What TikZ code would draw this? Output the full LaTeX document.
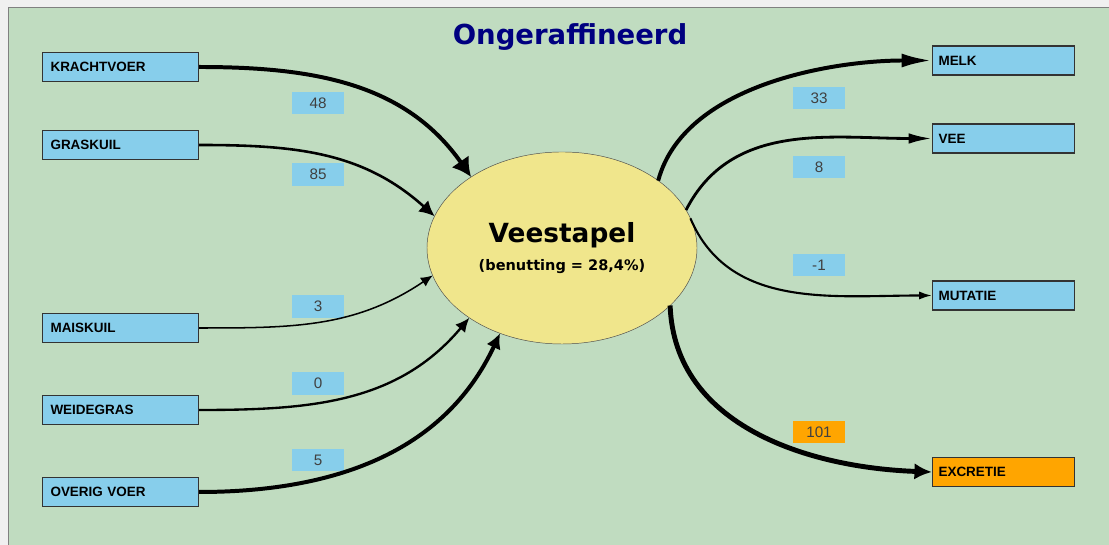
\documentclass[tikz,border=0pt]{standalone}
\usepackage{fontspec}
\setmainfont{Liberation Sans}
\newfontfamily\dejavu{DejaVu Sans}
\usetikzlibrary{shapes.geometric,arrows.meta}
\definecolor{panelgreen}{HTML}{C0DCC0}
\definecolor{boxblue}{HTML}{87CEEB}
\definecolor{boxorange}{HTML}{FFA500}
\definecolor{stapelfill}{HTML}{F0E68C}
\definecolor{titlenavy}{HTML}{000080}

\begin{document}
\begin{tikzpicture}[y=0.03cm,x=0.03cm,
    srcbox/.style={draw=black!80,fill=boxblue,line width=0.9pt,anchor=west,
        minimum height=0.87cm,text width=4.2cm,inner xsep=0.24cm,
        font=\bfseries\fontsize{11.5}{13}\selectfont},
    dstbox/.style={srcbox,text width=3.9cm,inner xsep=0.18cm},
    numtag/.style={fill=boxblue,minimum width=1.56cm,minimum height=0.67cm,
        inner sep=0pt,text=black!75,font=\fontsize{13}{15}\selectfont},
    flow/.style args={#1/#2/#3}{line width=#1,-{Latex[length=#2,width=#3]}}]
    % background
    \useasboundingbox (0,0) rectangle (1109,545);
    \fill[gray!12] (0,0) rectangle (1109,545);
    \fill[panelgreen] (8,0) rectangle (1109,538);
    \draw[gray] (8,0) -- (8,538) -- (1109,538);

    \node[anchor=base,text=titlenavy,font=\dejavu\bfseries\fontsize{23.5}{28}\selectfont] (title) at (570,500) {Ongeraffineerd};

    % veestapel
    \node[ellipse,draw=black!70,fill=stapelfill,minimum width=8.1cm,minimum height=5.76cm,
        inner sep=0pt,outer sep=0pt,align=center,font=\dejavu\bfseries\fontsize{12.4}{24}\selectfont] (stapel) at (562,297)
        {{\fontsize{22.5}{27}\selectfont Veestapel}\\(benutting = 28,4\%)};

    % inputs
    \node[srcbox] (krachtvoer) at (42,478) {KRACHTVOER};
    \node[srcbox] (graskuil) at (42,400) {GRASKUIL};
    \node[srcbox] (maiskuil) at (42,217) {MAISKUIL};
    \node[srcbox] (weidegras) at (42,135) {WEIDEGRAS};
    \node[srcbox] (overig) at (42,53) {OVERIG VOER};

    \node[numtag] (n48) at (318,442) {48};
    \node[numtag] (n85) at (318,370.5) {85};
    \node[numtag] (n3) at (318,238.5) {3};
    \node[numtag] (n0) at (318,161.5) {0};
    \node[numtag] (n5) at (318,85) {5};

    % outputs
    \node[dstbox] (melk) at (932,484.5) {MELK};
    \node[dstbox] (vee) at (932,406.5) {VEE};
    \node[dstbox] (mutatie) at (932,249.5) {MUTATIE};
    \node[dstbox,fill=boxorange] (excretie) at (932,73) {EXCRETIE};

    \node[numtag] (n33) at (819,447) {33};
    \node[numtag] (n8) at (819,378) {8};
    \node[numtag] (nmin1) at (819,280) {-1};
    \node[numtag,fill=boxorange] (n101) at (819,113) {101};

    % flows in
    \draw[flow={3.4pt/16pt/18pt}] (krachtvoer.east) to[out=0,in=125] (stapel.142);
    \draw[flow={2.2pt/13pt/13pt}] (graskuil.east) to[out=0,in=138] (stapel.166);
    \draw[flow={1.3pt/10pt/9pt}] (maiskuil.east) to[out=0,in=214] (stapel.192);
    \draw[flow={2pt/12pt/11pt}] (weidegras.east) to[out=0,in=230] (stapel.217);
    \draw[flow={3.4pt/13pt/13pt}] (overig.east) to[out=0,in=245] (stapel.234);

    % flows out
    \draw[flow={3.4pt/26pt/12pt}] (stapel.35) to[out=75,in=180,looseness=0.85] (melk.west);
    \draw[flow={2.4pt/20pt/9pt}] (stapel.17) to[out=63,in=180] (vee.west);
    \draw[flow={1.8pt/11pt/7pt}] (stapel.13) to[out=-67,in=180] (mutatie.west);
    \draw[flow={4.2pt/15pt/14pt}] (stapel.-28) to[out=-88,in=178] (excretie.west);
\end{tikzpicture}
\end{document}
